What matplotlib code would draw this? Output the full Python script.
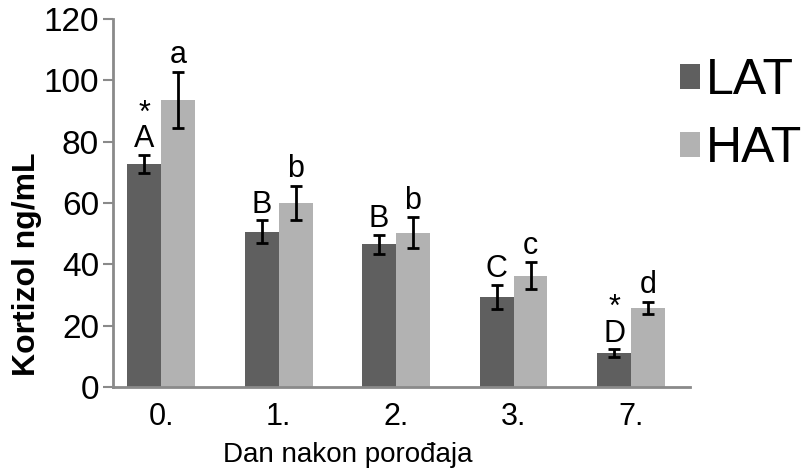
import numpy as np
import matplotlib; matplotlib.use("Agg")
import matplotlib.pyplot as plt

plt.rcParams['font.family'] = ['Liberation Sans', 'DejaVu Sans']

days = ["0.", "1.", "2.", "3.", "7."]
lat = [72.7, 50.6, 46.6, 29.4, 11.1]
lat_err = [3.0, 3.7, 3.1, 4.0, 1.2]
hat = [93.6, 60.0, 50.3, 36.3, 25.8]
hat_err = [9.1, 5.7, 5.0, 4.3, 2.0]
lat_lbl = ["A", "B", "B", "C", "D"]
hat_lbl = ["a", "b", "b", "c", "d"]
lat_star = [True, False, False, False, True]

C_LAT = "#5f5f5f"; C_HAT = "#b2b2b2"; C_AX = "#8a8a8a"

fig = plt.figure(figsize=(8.08, 4.68), dpi=100)
ax = fig.add_axes([113/808, 1-387/468, (690-113)/808, (387-19)/468])

x = np.arange(len(days)); w = 0.289
ax.bar(x - w/2, lat, w, color=C_LAT, label="LAT")
ax.bar(x + w/2, hat, w, color=C_HAT, label="HAT")
ek = dict(fmt='none', ecolor='black', elinewidth=2, capsize=4, capthick=2)
ax.errorbar(x - w/2, lat, yerr=lat_err, **ek)
ax.errorbar(x + w/2, hat, yerr=hat_err, **ek)

fs = 22
for i in range(len(days)):
    yt = lat[i] + lat_err[i] + 2.5
    ax.text(x[i] - w/2, yt, lat_lbl[i], ha='center', va='baseline', fontsize=fs)
    if lat_star[i]:
        ax.text(x[i] - w/2, yt + 8.3, "*", ha='center', va='baseline', fontsize=fs)
    ax.text(x[i] + w/2, hat[i] + hat_err[i] + 2.8, hat_lbl[i], ha='center', va='baseline', fontsize=fs)

ax.set_xlim(-0.409, 4.502)
ax.set_ylim(0, 120)
ax.set_yticks(np.arange(0, 121, 20))
ax.set_xticks(x)
ax.set_xticklabels(days)
ax.tick_params(axis='y', length=7, width=1.5, color=C_AX, labelsize=24, pad=3)
ax.tick_params(axis='x', length=0, labelsize=fs, pad=11)
for s in ['top', 'right']:
    ax.spines[s].set_visible(False)
for s in ['left', 'bottom']:
    ax.spines[s].set_color(C_AX); ax.spines[s].set_linewidth(2)

fig.text(348/808, 1-462/468, "Dan nakon porođaja", ha='center', va='baseline', fontsize=20)
fig.text(27/808, 1-264/468, "Kortizol ng/mL", ha='center', va='center', rotation=90,
         fontsize=23, fontweight='bold')

ax.legend(loc='upper left', bbox_to_anchor=(680/808, 1-58/468), bbox_transform=fig.transFigure,
          frameon=False, fontsize=36, handlelength=0.4, handleheight=0.4, handletextpad=0.12,
          labelspacing=0.45, borderpad=0, borderaxespad=0)

fig.savefig("out.png", dpi=100)
